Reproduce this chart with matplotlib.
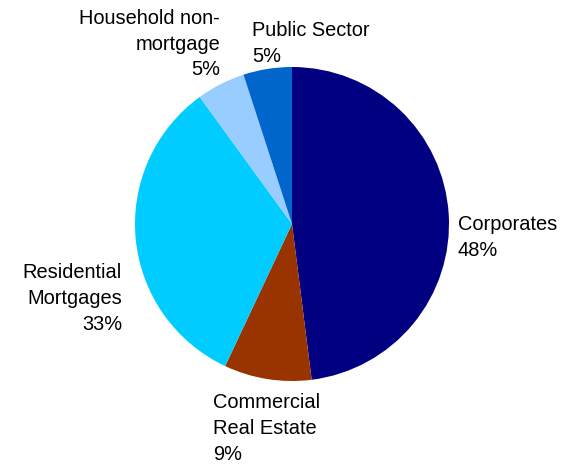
import matplotlib
matplotlib.use("Agg")
import matplotlib.pyplot as plt

plt.rcParams['font.family'] = ['Liberation Sans', 'DejaVu Sans']

# Sector shares, clockwise from 12 o'clock
sectors = ["Corporates", "Commercial Real Estate", "Residential Mortgages",
           "Household non-mortgage", "Public Sector"]
shares = [48, 9, 33, 5, 5]
colors = ["#000080", "#993300", "#00CCFF", "#99CCFF", "#0066CC"]
label_text = ["Corporates", "Commercial\nReal Estate", "Residential\nMortgages",
              "Household non-\nmortgage", "Public Sector"]

fig = plt.figure(figsize=(5.68, 4.65), dpi=100)
ax = fig.add_axes([0, 0, 1, 1])

ax.pie(shares, colors=colors, startangle=90, counterclock=False,
       center=(292, 241), radius=157, frame=True,
       wedgeprops=dict(linewidth=0))
ax.set_xlim(0, 568)
ax.set_ylim(0, 465)
ax.set_aspect("equal")
ax.axis("off")

# label anchor (x, first-line baseline y from top) and alignment
label_pos = [(458, 229, "left"), (213, 407, "left"), (122, 277, "right"),
             (220, 23, "right"), (252, 35, "left")]
for txt, val, (x, y, ha) in zip(label_text, shares, label_pos):
    ax.text(x, 465 - y + 14, f"{txt}\n{val}%", ha=ha, va="top",
            multialignment=ha, fontsize=14.4, linespacing=1.45, color="black")

fig.savefig("out.png", dpi=100)
